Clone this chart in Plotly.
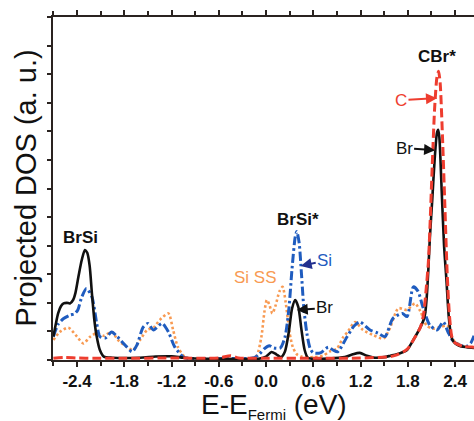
import plotly.graph_objects as go

# Projected density of states near the Fermi level (arbitrary units)
br_e = [-2.70, -2.67, -2.64, -2.60, -2.57, -2.53, -2.49, -2.45, -2.42, -2.38, -2.34, -2.30,
        -2.27, -2.24, -2.21, -2.18, -2.15, -2.11, -2.06, -1.95, -1.60, -1.40, -1.20, -1.05,
        -0.90, -0.50, -0.10, 0.00, 0.07, 0.13, 0.19, 0.24, 0.29, 0.33, 0.37, 0.41, 0.45,
        0.49, 0.53, 0.60, 0.80, 1.00, 1.10, 1.19, 1.28, 1.38, 1.50, 1.58, 1.66, 1.74, 1.79,
        1.87, 1.96, 2.00, 2.02, 2.04, 2.06, 2.08, 2.11, 2.14, 2.17, 2.185, 2.20, 2.23, 2.26,
        2.29, 2.32, 2.35, 2.38, 2.45, 2.55, 2.64]
br_dos = [0.82, 1.25, 1.63, 1.90, 1.98, 2.00, 1.98, 2.10, 2.35, 2.95, 3.50, 3.85,
          3.75, 3.30, 2.30, 1.40, 0.82, 0.35, 0.12, 0.08, 0.08, 0.12, 0.13, 0.08,
          0.05, 0.04, 0.04, 0.12, 0.28, 0.20, 0.10, 0.30, 1.00, 1.80, 2.10, 1.85, 1.05,
          0.35, 0.08, 0.04, 0.05, 0.10, 0.20, 0.25, 0.15, 0.08, 0.10, 0.15, 0.20, 0.28, 0.35,
          0.70, 1.15, 1.40, 1.63, 2.20, 3.15, 4.30, 5.60, 7.00, 7.95, 8.05, 7.80, 5.90, 4.00,
          2.80, 1.50, 0.85, 0.64, 0.50, 0.45, 0.42]

c_e = [-2.70, -2.55, -2.40, -2.20, -1.80, -1.20, -0.60, -0.45, -0.35, 0.00, 0.60, 1.20,
       1.58, 1.66, 1.74, 1.80, 1.87, 1.96, 2.00, 2.03, 2.06, 2.08, 2.11, 2.14, 2.17, 2.19,
       2.21, 2.24, 2.27, 2.30, 2.33, 2.36, 2.40, 2.50, 2.64]
c_dos = [0.06, 0.09, 0.07, 0.06, 0.06, 0.07, 0.07, 0.15, 0.07, 0.06, 0.06, 0.07,
         0.12, 0.18, 0.28, 0.40, 0.70, 1.15, 1.60, 2.40, 3.40, 4.60, 6.80, 8.80, 9.90, 10.10,
         9.70, 7.80, 5.40, 3.00, 1.50, 0.80, 0.60, 0.48, 0.45]

si_e = [-2.70, -2.64, -2.57, -2.49, -2.43, -2.39, -2.34, -2.28, -2.21, -2.15, -2.11, -2.04,
        -1.96, -1.89, -1.79, -1.70, -1.64, -1.56, -1.50, -1.43, -1.32, -1.24, -1.16, -1.05,
        -1.00, -0.50, -0.15, -0.08, -0.02, 0.04, 0.10, 0.18, 0.24, 0.29, 0.33, 0.37, 0.39,
        0.42, 0.45, 0.48, 0.52, 0.56, 0.60, 0.69, 0.79, 0.85, 0.91, 1.03, 1.12, 1.19, 1.32,
        1.42, 1.51, 1.61, 1.73, 1.79, 1.87, 1.93, 1.99, 2.08, 2.17, 2.25, 2.31, 2.38, 2.46,
        2.55, 2.60, 2.64]
si_dos = [0.82, 1.25, 1.45, 1.57, 1.62, 1.75, 2.20, 2.50, 2.20, 1.28, 0.82, 0.77,
          0.98, 0.82, 0.52, 0.29, 0.52, 1.15, 1.28, 1.05, 1.28, 0.98, 0.46, 0.10,
          0.06, 0.05, 0.08, 0.22, 0.40, 0.50, 0.42, 0.42, 0.80, 1.80, 3.20, 4.30, 4.50,
          4.10, 3.00, 1.80, 0.90, 0.40, 0.25, 0.25, 0.45, 0.35, 0.29, 0.82, 1.20, 1.33, 1.05,
          0.94, 0.82, 1.45, 1.63, 1.52, 2.56, 2.40, 1.86, 1.22, 1.05, 1.33, 0.98, 0.64, 0.52,
          0.48, 0.60, 0.85]

ss_e = [-2.70, -2.62, -2.51, -2.40, -2.32, -2.23, -2.15, -2.06, -1.96, -1.88, -1.77, -1.69,
        -1.60, -1.51, -1.43, -1.35, -1.24, -1.18, -1.12, -1.03, -0.95, -0.20, -0.12, -0.06,
        -0.02, 0.01, 0.04, 0.08, 0.12, 0.17, 0.21, 0.25, 0.30, 0.34, 0.39, 0.45, 0.60, 0.72,
        0.81, 0.90, 0.98, 1.04, 1.13, 1.23, 1.36, 1.49, 1.57, 1.68, 1.79, 1.89, 1.96, 2.04,
        2.12, 2.21, 2.30, 2.38, 2.50, 2.64]
ss_dos = [0.70, 0.98, 1.13, 0.82, 0.58, 0.82, 0.94, 0.85, 0.98, 0.70, 0.46, 0.35,
          0.70, 1.05, 1.13, 1.40, 1.63, 1.05, 0.46, 0.10, 0.05, 0.05, 0.15, 0.80,
          1.70, 2.10, 1.95, 1.63, 1.90, 2.40, 2.56, 2.00, 0.93, 0.45, 0.20, 0.12, 0.10, 0.15,
          0.30, 0.40, 0.80, 1.00, 1.33, 1.05, 0.87, 0.75, 1.10, 1.81, 1.75, 1.98, 1.70, 1.20,
          1.10, 1.15, 1.20, 0.70, 0.48, 0.45]

energy_ticks = [-2.4, -1.8, -1.2, -0.6, 0.0, 0.6, 1.2, 1.8, 2.4]

FONT = "Liberation Sans, Arial, Helvetica, sans-serif"
BLACK = "#111111"
RED = "#ee3d2f"
BLUE = "#1f5cbf"
ORANGE = "#f89a52"
NAVY = "#22308f"
AXIS = "#2a2320"

fig = go.Figure()

def curve(x, y, color, width, dash):
    fig.add_trace(go.Scatter(
        x=x, y=y, mode="lines",
        line=dict(color=color, width=width, dash=dash, shape="spline", smoothing=0.7),
        hoverinfo="skip", showlegend=False, cliponaxis=True))

curve(ss_e, ss_dos, ORANGE, 2.6, "2.5px,2.5px")
curve(si_e, si_dos, BLUE, 3, "9px,3px,2.5px,3px")
curve(br_e, br_dos, BLACK, 2.6, "solid")
curve(c_e, c_dos, RED, 3, "9px,4px")

def label(x, y, text, color, bold=False, size=17):
    fig.add_annotation(x=x, y=y, text=text, showarrow=False,
                       font=dict(family=FONT, size=size, color=color,
                                 weight="bold" if bold else "normal"))

def arrow(x, y, text, color, ax, ay, arrowcolor=None):
    fig.add_annotation(x=x, y=y, text=text, showarrow=True, ax=ax, ay=ay,
                       arrowhead=2, arrowsize=1.1, arrowwidth=2,
                       arrowcolor=arrowcolor or color,
                       font=dict(family=FONT, size=17, color=color))

label(-2.355, 4.27, "BrSi", BLACK, bold=True)
label(0.40, 4.9, "BrSi*", BLACK, bold=True)
label(2.17, 10.63, "CBr*", BLACK, bold=True)
label(-0.13, 2.9, "Si SS", ORANGE)
arrow(0.44, 3.29, "Si", BLUE, 24, -5, NAVY)
arrow(0.39, 1.75, "Br", BLACK, 28, -2)
arrow(2.17, 9.16, "C", RED, -36, 2)
arrow(2.146, 7.34, "Br", BLACK, -31, -2)

# axis titles
fig.add_annotation(xref="paper", yref="paper", x=0.525, y=-0.078, yanchor="top",
                   xanchor="center",
                   text="E-E<sub><span style='font-size:15px'>Fermi</span></sub> (eV)",
                   showarrow=False, font=dict(family=FONT, size=28, color=BLACK))
fig.add_annotation(xref="paper", yref="paper", x=-0.0665, y=0.5, textangle=-90,
                   xanchor="center", yanchor="middle",
                   text="Projected DOS (a. u.)", showarrow=False,
                   font=dict(family=FONT, size=29, color=BLACK))

fig.update_xaxes(range=[-2.705, 2.64], tickvals=energy_ticks,
                 ticktext=[f"{v:.1f}" for v in energy_ticks],
                 ticks="outside", ticklen=5, tickwidth=1.5, tickcolor=AXIS,
                 minor=dict(dtick=0.3, tick0=0, ticks="outside", ticklen=4,
                            tickwidth=1.5, tickcolor=AXIS, showgrid=False),
                 showline=True, linecolor=AXIS, linewidth=1.5, mirror="ticks",
                 showgrid=False, zeroline=False,
                 tickfont=dict(family=FONT, size=17, color=BLACK, weight="bold"))
fig.update_yaxes(range=[0, 12], dtick=1, tick0=0, ticks="outside", ticklen=4,
                 tickwidth=1.5, tickcolor=AXIS, showticklabels=False,
                 showline=True, linecolor=AXIS, linewidth=1.5, mirror=False,
                 showgrid=False, zeroline=False)

fig.update_layout(width=474, height=421, margin=dict(l=53, r=0, t=17, b=61),
                  paper_bgcolor="white", plot_bgcolor="white", showlegend=False)

fig.write_html("out.html")
